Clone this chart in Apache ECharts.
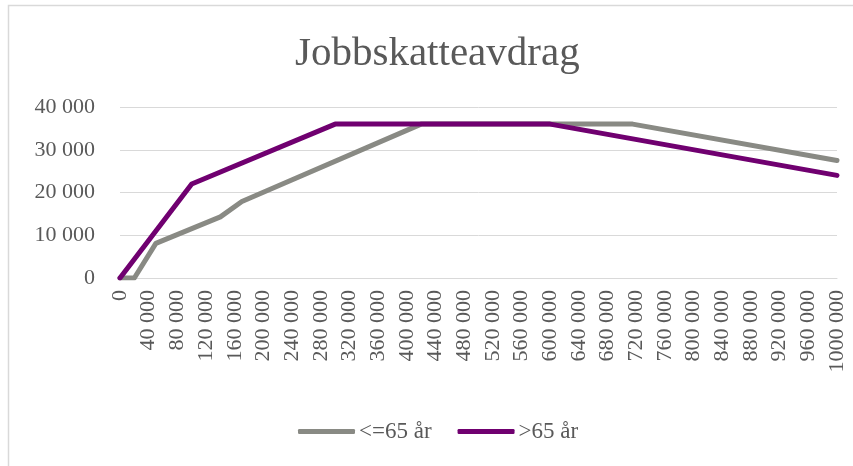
<!DOCTYPE html>
<html>
<head>
<meta charset="utf-8">
<script src="https://cdn.jsdelivr.net/npm/echarts@6/dist/echarts.min.js"></script>
<style>
html,body{margin:0;padding:0;background:#fff;}
#c{width:853px;height:466px;}
</style>
</head>
<body>
<div id="c"></div>
<script>
const chartTitle = 'Jobbskatteavdrag';
const seriesNames = ['<=65 år', '>65 år'];
// knot points (income, avdrag)
const incomeUnder65 = [0, 20000, 50000, 140000, 170000, 420000, 715000, 1000000];
const valueUnder65  = [0, 0, 8100, 14300, 17900, 36000, 36000, 27500];
const incomeOver65  = [0, 100000, 300000, 600000, 1000000];
const valueOver65   = [0, 22000, 36000, 36000, 24000];
const xTickMin = 0, xTickMax = 1000000, xTickStep = 40000;
const yTickMin = 0, yTickMax = 40000, yTickStep = 10000;

function fmt(v) {
  if (v === 0) return '0';
  return Math.floor(v / 1000) + ' ' + String(v % 1000).padStart(3, '0');
}
function pairs(xs, ys) { return xs.map((x, i) => [x, ys[i]]); }

const FONT = "'Liberation Serif', serif";
const TXT = '#595959';
const chart = echarts.init(document.getElementById('c'), null, {renderer: 'canvas'});
chart.setOption({
  animation: false,
  backgroundColor: '#ffffff',
  title: {
    text: chartTitle, left: 290, top: 29,
    textStyle: {fontFamily: FONT, fontSize: 41, fontWeight: 'normal', color: TXT}
  },
  graphic: [{
    type: 'rect', shape: {x: 8.5, y: 5.5, width: 900, height: 500},
    style: {fill: 'none', stroke: '#d9d9d9', lineWidth: 1.5}, silent: true, z: -1
  }],
  legend: {
    left: 293, top: 415, itemWidth: 57, itemHeight: 5, itemGap: 26,
    icon: 'roundRect',
    textStyle: {fontFamily: FONT, fontSize: 23, color: TXT, padding: [0, 0, 0, -1]},
    data: seriesNames
  },
  grid: {left: 120, right: 16, top: 107, bottom: 188, containLabel: false},
  xAxis: {
    type: 'value', min: xTickMin, max: xTickMax, interval: xTickStep,
    axisLine: {show: true, lineStyle: {color: '#d9d9d9', width: 1}},
    axisTick: {show: false},
    splitLine: {show: false},
    axisLabel: {
      rotate: 90, margin: 12, formatter: fmt,
      fontFamily: FONT, fontSize: 22, color: TXT, showMaxLabel: true, showMinLabel: true
    }
  },
  yAxis: {
    type: 'value', min: yTickMin, max: yTickMax, interval: yTickStep,
    axisLine: {show: false}, axisTick: {show: false},
    splitLine: {lineStyle: {color: '#d9d9d9', width: 1}},
    axisLabel: {margin: 25, formatter: fmt, fontFamily: FONT, fontSize: 22, color: TXT}
  },
  series: [
    {
      name: seriesNames[0], type: 'line', data: pairs(incomeUnder65, valueUnder65),
      showSymbol: false, symbol: 'none', color: '#898a84',
      lineStyle: {width: 5, cap: 'round', join: 'round', color: '#898a84'}
    },
    {
      name: seriesNames[1], type: 'line', data: pairs(incomeOver65, valueOver65),
      showSymbol: false, symbol: 'none', color: '#700070',
      lineStyle: {width: 5, cap: 'round', join: 'round', color: '#700070'}
    }
  ]
});
</script>
</body>
</html>
